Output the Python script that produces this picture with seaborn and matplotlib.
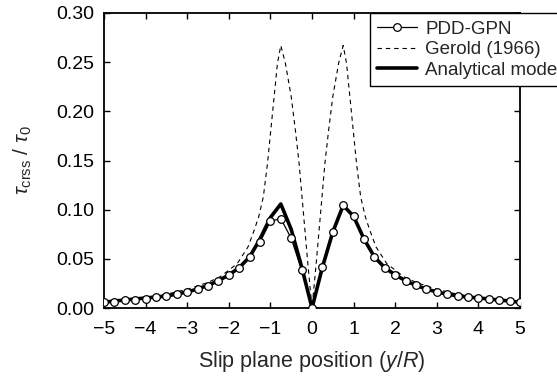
import numpy as np
import pandas as pd
import matplotlib
matplotlib.use("Agg")
import matplotlib.pyplot as plt
import seaborn as sns

# slip plane position y/R, step 0.25
pos = [-5.0, -4.75, -4.5, -4.25, -4.0, -3.75, -3.5, -3.25, -3.0, -2.75, -2.5,
       -2.25, -2.0, -1.75, -1.5, -1.25, -1.0, -0.75, -0.5, -0.25, 0.0,
       0.25, 0.5, 0.75, 1.0, 1.25, 1.5, 1.75, 2.0, 2.25, 2.5, 2.75, 3.0,
       3.25, 3.5, 3.75, 4.0, 4.25, 4.5, 4.75, 5.0]

pdd_gpn = [0.0058, 0.0064, 0.0078, 0.0081, 0.0095, 0.0110, 0.0125, 0.0142, 0.0160, 0.0193, 0.0227,
           0.0275, 0.0332, 0.0410, 0.0522, 0.0671, 0.0882, 0.0909, 0.0709, 0.0387, 0.0,
           0.0414, 0.0773, 0.1044, 0.0932, 0.0702, 0.0519, 0.0410, 0.0336, 0.0278, 0.0230, 0.0193, 0.0163,
           0.0142, 0.0122, 0.0112, 0.0102, 0.0092, 0.0081, 0.0071, 0.0058]

analytical = [0.0058, 0.0071, 0.0081, 0.0092, 0.0102, 0.0112, 0.0122, 0.0142, 0.0163, 0.0193, 0.0230,
              0.0278, 0.0336, 0.0410, 0.0519, 0.0702, 0.0920, 0.1058, 0.0800, 0.0420, 0.0,
              0.0414, 0.0773, 0.1044, 0.0932, 0.0702, 0.0519, 0.0410, 0.0336, 0.0278, 0.0230, 0.0193, 0.0163,
              0.0142, 0.0122, 0.0112, 0.0102, 0.0092, 0.0081, 0.0071, 0.0058]

# Gerold (1966) curve, read at finer positions
gerold_pos = [-5.0, -4.5, -4.0, -3.5, -3.0, -2.5, -2.2, -1.8, -1.54, -1.39, -1.28, -1.17, -1.07,
              -0.99, -0.91, -0.83, -0.75, -0.64, -0.50, -0.40, -0.31, -0.24, -0.17, -0.10, 0.0,
              0.10, 0.17, 0.24, 0.31, 0.40, 0.50, 0.64, 0.75, 0.83, 0.91, 0.99, 1.07,
              1.17, 1.28, 1.39, 1.54, 1.8, 2.2, 2.5, 3.0, 3.5, 4.0, 4.5, 5.0]
gerold = [0.0070, 0.0088, 0.0108, 0.0140, 0.0190, 0.0260, 0.0320, 0.0450, 0.0620, 0.0790, 0.0930,
          0.1130, 0.1470, 0.1810, 0.2150, 0.2490, 0.2670, 0.2490, 0.2150, 0.1810, 0.1470, 0.1130,
          0.0790, 0.0450, 0.0,
          0.0450, 0.0790, 0.1130, 0.1470, 0.1810, 0.2150, 0.2490, 0.2670, 0.2490, 0.2150, 0.1810,
          0.1470, 0.1130, 0.0930, 0.0790, 0.0620, 0.0450, 0.0320, 0.0260, 0.0190, 0.0140, 0.0108,
          0.0088, 0.0070]

df = pd.DataFrame({"pos": pos, "pdd": pdd_gpn, "analytical": analytical})
df_g = pd.DataFrame({"pos": gerold_pos, "gerold": gerold})

sns.set_style("ticks")
plt.rcParams["font.family"] = ["Liberation Sans", "DejaVu Sans"]
plt.rcParams["mathtext.fontset"] = "custom"
plt.rcParams["mathtext.rm"] = "Liberation Sans"
plt.rcParams["mathtext.it"] = "Liberation Sans:italic"

fig = plt.figure(figsize=(5.57, 3.79), dpi=100)
ax = fig.add_axes([0.1867, 0.1873, 0.7469, 0.7784])

sns.lineplot(data=df, x="pos", y="analytical", ax=ax, color="black", linewidth=2.6,
             label="Analytical model", zorder=2)
sns.lineplot(data=df_g, x="pos", y="gerold", ax=ax, color="black", linewidth=0.8,
             label="Gerold (1966)", zorder=1)
ax.lines[-1].set_dashes((4, 3.5))
sns.lineplot(data=df, x="pos", y="pdd", ax=ax, color="black", linewidth=0.9,
             marker="o", markersize=5.5, markerfacecolor="white", markeredgecolor="black",
             markeredgewidth=0.9, label="PDD-GPN", zorder=3)

ax.set_xlim(-5, 5)
ax.set_ylim(0, 0.30)
ax.set_xticks(np.arange(-5, 6, 1))
ax.set_yticks(np.arange(0, 0.31, 0.05))
ax.set_yticklabels([f"{v:.2f}" for v in np.arange(0, 0.31, 0.05)])
ax.tick_params(direction="in", top=True, right=True, labelsize=14, length=4, width=1,
               colors="black")
ax.tick_params(axis="x", pad=9)
ax.tick_params(axis="y", pad=7)
for s in ax.spines.values():
    s.set_linewidth(1.3)
    s.set_color("black")

ax.set_xlabel("Slip plane position ($y$/$R$)", fontsize=15.5, labelpad=8)
ax.set_ylabel(r"$\tau_{\mathrm{crss}}$ / $\tau_0$", fontsize=15, labelpad=16)

# legend runs past the right edge of the figure, as in the original
handles, labels = ax.get_legend_handles_labels()
order = [2, 1, 0]
leg = ax.legend([handles[i] for i in order], [labels[i] for i in order],
                loc="upper left", bbox_to_anchor=(0.639, 1.0), fontsize=13.5,
                frameon=True, fancybox=False, borderpad=0.4, labelspacing=0.18,
                handlelength=2.1, handletextpad=0.45, borderaxespad=0)
leg.get_frame().set_edgecolor("black")
leg.get_frame().set_linewidth(1.0)
leg.get_frame().set_alpha(1)

fig.savefig("out.png", dpi=100)
